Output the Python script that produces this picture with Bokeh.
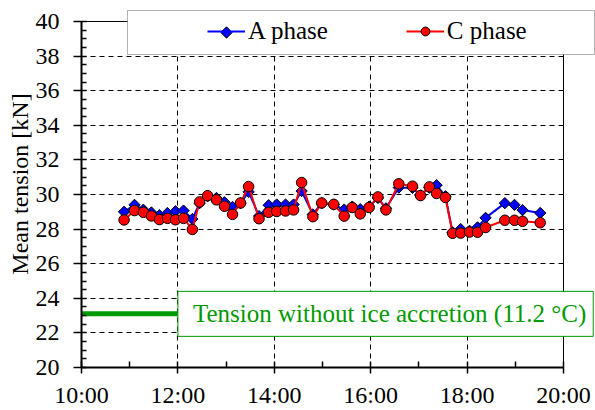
from bokeh.plotting import figure
from bokeh.models import (Range1d, FixedTicker, Legend, LegendItem, Label,
                          BoxAnnotation, ColumnDataSource)
from bokeh.embed import file_html
from bokeh.resources import INLINE
import numpy as np

# Sample times (10-minute means) and mean tension per phase [kN]
times = ["10:53", "11:06", "11:17", "11:27", "11:37", "11:47", "11:57", "12:07",
         "12:18", "12:27", "12:37", "12:48", "12:58", "13:08", "13:18", "13:28",
         "13:41", "13:53", "14:03", "14:14", "14:24", "14:34", "14:48", "14:59",
         "15:14", "15:27", "15:37", "15:47", "15:58", "16:09", "16:19", "16:35",
         "16:52", "17:02", "17:13", "17:22", "17:33", "17:42", "17:52", "18:03",
         "18:13", "18:23", "18:47", "18:59", "19:09", "19:31"]
a_phase = [29.00, 29.40, 29.12, 28.96, 28.80, 28.93, 29.03, 29.07, 28.58, 29.50,
           29.90, 29.80, 29.55, 29.28, 29.50, 30.15, 28.75, 29.38, 29.42, 29.42,
           29.42, 30.20, 28.85, 29.50, 29.42, 29.13, 29.30, 29.15, 29.30, 29.80,
           29.20, 30.40, 30.38, 29.95, 30.40, 30.54, 29.90, 27.80, 28.00, 27.90,
           28.10, 28.65, 29.50, 29.40, 29.10, 28.93]
c_phase = [28.53, 29.07, 28.97, 28.76, 28.55, 28.62, 28.54, 28.62, 27.98, 29.57,
           29.93, 29.69, 29.32, 28.85, 29.51, 30.46, 28.60, 28.97, 29.02, 29.05,
           29.11, 30.69, 28.72, 29.51, 29.43, 28.75, 29.25, 28.88, 29.25, 29.86,
           29.11, 30.62, 30.48, 29.94, 30.44, 30.06, 29.83, 27.76, 27.77, 27.83,
           27.82, 28.09, 28.51, 28.51, 28.45, 28.37]

# Reference tension without ice accretion
no_ice_tension = 23.1
no_ice_span = ["10:00", "12:00"]
no_ice_text = "Tension without ice accretion (11.2 °C)"

x_tick_labels = ["10:00", "12:00", "14:00", "16:00", "18:00", "20:00"]
y_ticks = [20, 22, 24, 26, 28, 30, 32, 34, 36, 38, 40]

FONT = "Liberation Serif"
BLUE = "#0000FF"
RED = "#FF0000"
GREEN = "#009A00"

# Canvas geometry: the plotting frame reaches the top and right edges so the
# legend and the note box may overhang the axes box.
W, H = 595, 410
LEFT, BOTTOM = 81, 43
BOX_RIGHT, BOX_TOP = 563, 21

# Legend layout (pixels)
LEG_X, LEG_BOTTOM = 126, 322          # relative to frame left / bottom
LEG_GLYPH_W, LEG_CENTER_Y = 38, 32    # glyph width, key centre from top


def to_hours(t):
    h, m = t.split(":")
    return int(h) + int(m) / 60.0


x_hours = [to_hours(t) for t in times]
x_ticks = [to_hours(t) for t in x_tick_labels]
x0, x1 = x_ticks[0], x_ticks[-1]
y0, y1 = y_ticks[0], y_ticks[-1]

px_per_x = (BOX_RIGHT - LEFT) / (x1 - x0)
px_per_y = (H - BOTTOM - BOX_TOP) / (y1 - y0)
x_end = x1 + (W - BOX_RIGHT) / px_per_x
y_end = y1 + BOX_TOP / px_per_y

src = ColumnDataSource(dict(x=x_hours, a=a_phase, c=c_phase))

p = figure(width=W, height=H, output_backend="svg", toolbar_location=None,
           x_range=Range1d(x0, x_end), y_range=Range1d(y0, y_end),
           min_border_left=LEFT, min_border_right=0,
           min_border_top=0, min_border_bottom=BOTTOM,
           background_fill_color="white", border_fill_color="white")
p.outline_line_color = None

# Axes
xt = FixedTicker(ticks=x_ticks,
                 minor_ticks=list(np.arange(x0, x1 + 0.5, 1.0)))
yt = FixedTicker(ticks=y_ticks,
                 minor_ticks=list(np.arange(y0, y1 + 0.25, 0.5)))
p.xaxis.ticker = xt
p.yaxis.ticker = yt
p.xaxis.bounds = (x0, x1)
p.yaxis.bounds = (y0, y1)
p.xaxis.major_label_overrides = {k: v for k, v in zip(x_ticks, x_tick_labels)}
p.yaxis.axis_label = "Mean tension [kN]"

for ax in (p.xaxis[0], p.yaxis[0]):
    ax.axis_line_color = "black"
    ax.axis_line_width = 2
    ax.major_tick_line_color = "black"
    ax.minor_tick_line_color = "black"
    ax.major_tick_line_width = 1.5
    ax.minor_tick_line_width = 1.5
    ax.major_tick_in = 0
    ax.minor_tick_out = 0
    ax.major_label_text_font = FONT
    ax.major_label_text_font_size = "24px"
    ax.major_label_text_color = "black"
    ax.axis_label_text_font = FONT
    ax.axis_label_text_font_size = "24px"
    ax.axis_label_text_font_style = "normal"
    ax.axis_label_text_color = "black"

p.xaxis.major_tick_out = 6
p.xaxis.minor_tick_in = 6
p.xaxis.major_label_standoff = 8
p.yaxis.major_tick_out = 8
p.yaxis.minor_tick_in = 5
p.yaxis.major_label_standoff = 14
p.yaxis.axis_label_standoff = 0

# Dashed grid
p.xgrid.ticker = xt
p.ygrid.ticker = yt
for g in (p.xgrid[0], p.ygrid[0]):
    g.grid_line_color = "black"
    g.grid_line_dash = "5 4"
    g.grid_line_width = 1

# Blank out the grid outside the axes box
p.add_layout(BoxAnnotation(left=x1, fill_color="white", fill_alpha=1.0,
                           line_color=None, level="glyph"))
p.add_layout(BoxAnnotation(bottom=y1, fill_color="white", fill_alpha=1.0,
                           line_color=None, level="glyph"))

# Top and right edges of the axes box
p.segment(x0=[x0, x1], y0=[y1, y0], x1=[x1, x1], y1=[y1, y1],
          line_color="black", line_width=1, level="guide")

# Reference level without ice
p.line([to_hours(t) for t in no_ice_span], [no_ice_tension] * 2,
       line_color=GREEN, line_width=5)

# Phase series
diamond_style = dict(marker="square", angle=np.pi / 4, size=8,
                     fill_color=BLUE, line_color="black", line_width=1)
la = p.line("x", "a", source=src, line_color=BLUE, line_width=2)
ma = p.scatter("x", "a", source=src, **diamond_style)
lc = p.line("x", "c", source=src, line_color=RED, line_width=2)
mc = p.scatter("x", "c", source=src, marker="circle", size=10.5,
               fill_color=RED, line_color="black", line_width=1)

# Legend frame and entries
box = BoxAnnotation(left=127, right=594, top=10, bottom=54,
                    left_units="canvas", right_units="canvas",
                    top_units="canvas", bottom_units="canvas",
                    fill_color="white", fill_alpha=1.0,
                    line_color="black", line_width=1, level="annotation")
p.add_layout(box)

legend = Legend(items=[LegendItem(label="A phase", renderers=[la]),
                       LegendItem(label="C phase", renderers=[lc, mc])],
                location=(LEG_X, LEG_BOTTOM), orientation="horizontal",
                padding=0, margin=0, spacing=78,
                glyph_width=LEG_GLYPH_W, glyph_height=22, label_standoff=3,
                border_line_color=None, background_fill_alpha=0,
                label_text_font=FONT, label_text_font_size="25px",
                label_text_color="black", level="annotation")
p.add_layout(legend, "center")

# Diamond key for the A phase entry (the legend draws markers unrotated)
key_x = x0 + (LEG_X + LEG_GLYPH_W / 2) / px_per_x
key_y = y_end - LEG_CENTER_Y / px_per_y
p.scatter([key_x], [key_y], level="overlay", **diamond_style)

note = Label(x=to_hours(no_ice_span[1]), y=no_ice_tension, text=no_ice_text,
             text_align="left", text_baseline="middle",
             text_font=FONT, text_font_size="25px", text_color=GREEN,
             padding=dict(left=15, right=7, top=9, bottom=9),
             border_line_color=GREEN, border_line_width=1,
             background_fill_color="white", background_fill_alpha=1.0)
p.add_layout(note)

open("out.html", "w").write(file_html(p, INLINE))
